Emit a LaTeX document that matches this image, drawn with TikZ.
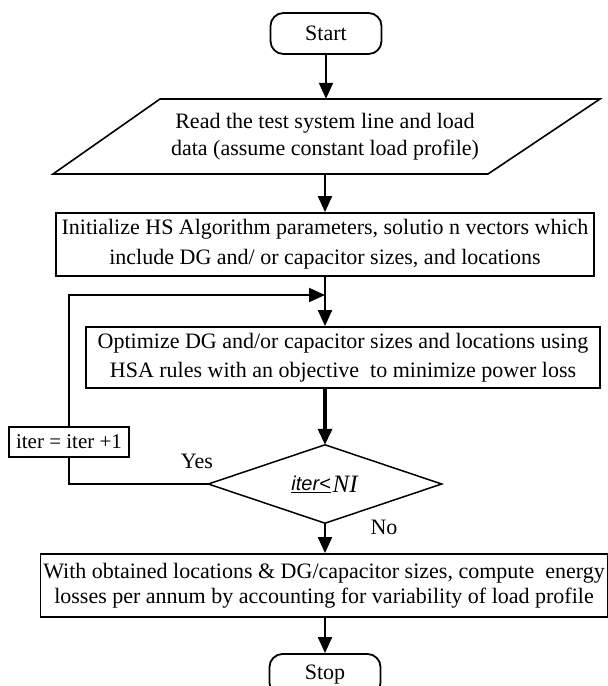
\documentclass[tikz,border=0pt]{standalone}
\usepackage{fontspec}
\setmainfont{Liberation Serif}
\newfontfamily\sansfam{Liberation Sans}
\usetikzlibrary{arrows.meta,calc}
\begin{document}
\begin{tikzpicture}[x=1pt,y=-1pt,
  txt/.style={font=\fontsize{22pt}{27pt}\selectfont, align=center, inner sep=0pt},
  box/.style={draw, line width=1.8pt, txt},
  term/.style={draw, line width=1.8pt, rounded corners=13pt, txt},
  conn/.style={line width=2pt, -{Triangle[length=16pt,width=14pt]}},
  thickconn/.style={line width=3.5pt, -{Triangle[length=16pt,width=14pt]}},
  plain/.style={line width=2pt}]
\useasboundingbox (0,0) rectangle (608,686);
\clip (0,0) rectangle (608,686);

% terminals
\node[term, minimum width=111pt, minimum height=41pt] (start) at (326,33.5) {Start};

% input parallelogram
\node[txt, minimum width=330pt, minimum height=75pt] (read) at (325,136.5)
  {Read the test system line and load\\data (assume constant load profile)};
\draw[line width=1.6pt] (160,99) -- (600,99) -- (488,174) -- (53,174) -- cycle;

% initialise
\node[box, minimum width=538pt, minimum height=63pt,
  font=\fontsize{22pt}{30pt}\selectfont] (init) at (325,244.5)
  {Initialize HS Algorithm parameters, solutio n vectors which\\include DG and/ or capacitor sizes, and locations};

% optimise
\node[box, minimum width=514pt, minimum height=61pt,
  font=\fontsize{22pt}{29pt}\selectfont] (opt) at (343,357.5)
  {Optimize DG and/or capacitor sizes and locations using\\HSA rules with an objective\ \ to minimize power loss};

% decision
\node[minimum width=233pt, minimum height=78pt, inner sep=0pt] (dec) at (325,484)
  {\raisebox{2pt}{\sansfam\itshape\fontsize{20pt}{24pt}\selectfont\underline{iter<}}\,\fontsize{25pt}{28pt}\selectfont\textit{NI}};
\draw[line width=1.5pt] (dec.north) -- (dec.east) -- (dec.south) -- (dec.west) -- cycle;

% counter
\node[box, minimum width=120pt, minimum height=30pt, inner sep=0pt,
  font=\fontsize{21pt}{24pt}\selectfont] (inc) at (69,442) {iter = iter +1};

% labels
\node[txt] (yes) at (197,461) {Yes};
\node[txt] (no) at (384,527) {No};

% final computation
\node[box, minimum width=567pt, minimum height=63pt,
  font=\fontsize{22pt}{25pt}\selectfont] (final) at (324,585.5)
  {With obtained locations \& DG/capacitor sizes, compute\ \ energy\\ losses per annum by accounting for variability of load profile};

\node[term, minimum width=111pt, minimum height=42pt] (stop) at (325,675) {Stop};

% connectors
\coordinate (loopy) at (0,295);
\coordinate (join) at (init.south |- loopy);
\draw[conn] (start.south) -- (start.south |- read.north);
\draw[conn] (read.south) -- (read.south |- init.north);
\draw[conn] (init.south) -- (init.south |- opt.north);
\draw[thickconn] (init.south |- opt.south) -- (dec.north);
\draw[conn] (dec.south) -- (dec.south |- final.north);
\draw[conn] (dec.south |- final.south) -- (stop.north);
\draw[plain] (dec.west) -- (dec.west -| inc.south) -- (inc.south);
\draw[conn] (inc.north) -- (inc.north |- loopy) -- (join);
\end{tikzpicture}
\end{document}
